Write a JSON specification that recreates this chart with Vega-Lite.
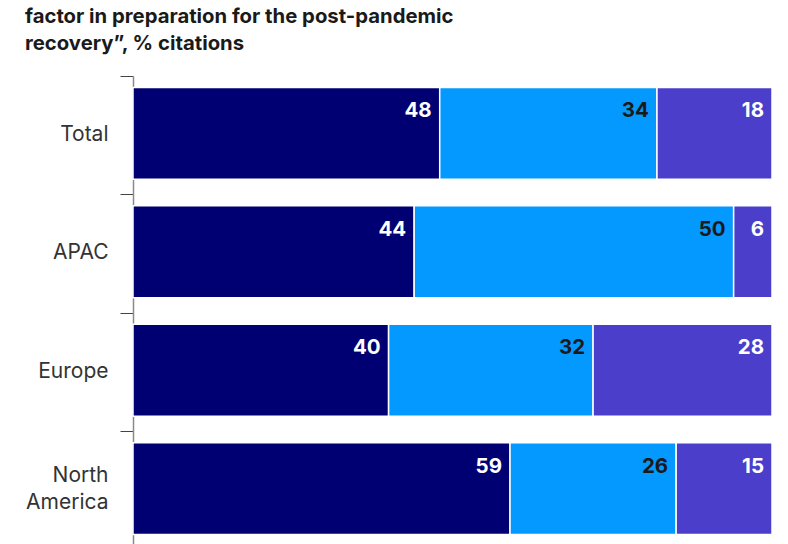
{
  "$schema": "https://vega.github.io/schema/vega-lite/v6.json",
  "width": 639,
  "height": 470,
  "autosize": {"type": "none"},
  "padding": {"left": 133, "top": 76, "right": 16, "bottom": 0},
  "background": "white",
  "view": {"stroke": null},
  "title": {
    "text": ["factor in preparation for the post-pandemic", "recovery”, % citations"],
    "anchor": "start",
    "frame": "group",
    "dx": -108,
    "offset": 21,
    "font": "Inter",
    "fontSize": 20.3,
    "fontWeight": "bold",
    "color": "#1a1a1a",
    "lineHeight": 27
  },
  "data": {
    "values": [
      {"region": "Total", "segment": "Response 1", "order": 1, "value": 48},
      {"region": "Total", "segment": "Response 2", "order": 2, "value": 34},
      {"region": "Total", "segment": "Response 3", "order": 3, "value": 18},
      {"region": "APAC", "segment": "Response 1", "order": 1, "value": 44},
      {"region": "APAC", "segment": "Response 2", "order": 2, "value": 50},
      {"region": "APAC", "segment": "Response 3", "order": 3, "value": 6},
      {"region": "Europe", "segment": "Response 1", "order": 1, "value": 40},
      {"region": "Europe", "segment": "Response 2", "order": 2, "value": 32},
      {"region": "Europe", "segment": "Response 3", "order": 3, "value": 28},
      {"region": "North America", "segment": "Response 1", "order": 1, "value": 59},
      {"region": "North America", "segment": "Response 2", "order": 2, "value": 26},
      {"region": "North America", "segment": "Response 3", "order": 3, "value": 15}
    ]
  },
  "transform": [
    {"stack": "value", "groupby": ["region"], "sort": [{"field": "order", "order": "ascending"}], "as": ["x0", "x1"]}
  ],
  "encoding": {
    "y": {
      "field": "region",
      "type": "nominal",
      "sort": ["Total", "APAC", "Europe", "North America"],
      "scale": {"paddingInner": 0.224, "paddingOuter": 0.097},
      "axis": {
        "title": null,
        "domainColor": "#8a8a8a",
        "domainWidth": 1.5,
        "tickColor": "#444444",
        "tickSize": 13,
        "tickWidth": 1,
        "tickOffset": -57.5,
        "labelOffset": {"condition": {"test": "datum.value == 'North America'", "value": 44}, "value": 58.5},
        "labelPadding": 12,
        "labelFont": "Inter",
        "labelFontSize": 21,
        "labelColor": "#333333",
        "labelLineHeight": 27,
        "labelExpr": "datum.value == 'North America' ? ['North', 'America'] : datum.value"
      }
    }
  },
  "layer": [
    {
      "mark": {"type": "bar", "stroke": "white", "strokeWidth": 1.5},
      "encoding": {
        "x": {"field": "x0", "type": "quantitative", "scale": {"domain": [0, 100], "nice": false}, "axis": null},
        "x2": {"field": "x1"},
        "color": {
          "field": "segment",
          "type": "nominal",
          "scale": {"domain": ["Response 1", "Response 2", "Response 3"], "range": ["#000073", "#0499ff", "#4a3ecb"]},
          "legend": null
        }
      }
    },
    {
      "mark": {"type": "text", "align": "right", "baseline": "middle", "dx": -8, "dy": -22, "font": "Inter", "fontSize": 20.5, "fontWeight": "bold"},
      "encoding": {
        "x": {"field": "x1", "type": "quantitative"},
        "text": {"field": "value", "type": "quantitative"},
        "color": {"condition": {"test": "datum.segment == 'Response 2'", "value": "#1a1a1a"}, "value": "white"}
      }
    }
  ]
}
